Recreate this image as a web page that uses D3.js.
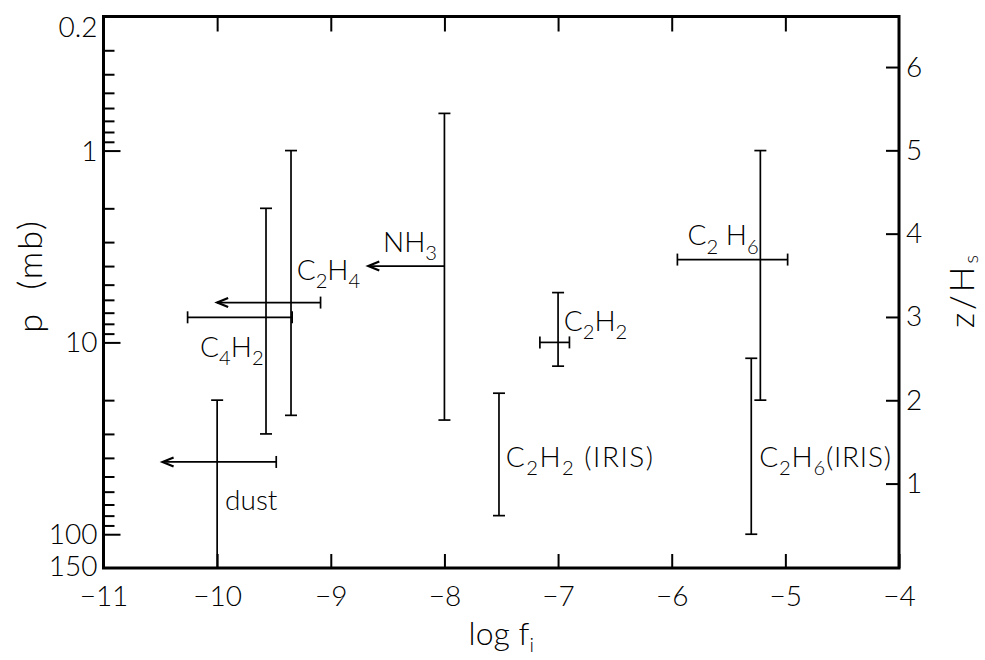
<!DOCTYPE html>
<html>
<head>
<meta charset="utf-8">
<script src="https://cdn.jsdelivr.net/npm/d3@7"></script>
<style>
  html, body { margin: 0; padding: 0; background: #fff; }
  svg text { font-family: "Lato", "Open Sans", "DejaVu Sans", sans-serif; font-weight: 400; fill: #000; }
</style>
</head>
<body>
<svg id="chart" width="985" height="660"></svg>
<script>
// Species measured, one vertical pressure range each, with an optional
// horizontal mixing-ratio range (log f) at a representative pressure.
const species    = ["C4H2", "C2H4", "NH3", "dust", "C2H2", "C2H2 (IRIS)", "C2 H6", "C2H6(IRIS)"];
const logF       = [-9.57, -9.35, -8.0, -10.0, -7.0, -7.52, -5.22, -5.30];
const pTop       = [2.0, 1.0, 0.64, 20, 5.5, 18.4, 1.0, 12.1];
const pBottom    = [30, 24, 25.4, 150, 13.3, 80, 20, 100];
const pCross     = [7.4, 6.2, 4.0, 42, 10, null, 3.7, null];
const logFLow    = [-10.26, -10.0, -8.67, -10.48, -7.16, null, -5.95, null];
const logFHigh   = [-9.34, -9.09, -8.0, -9.48, -6.90, null, -4.98, null];
const upperLimit = [false, true, true, true, false, false, false, false];
const capTop     = [true, true, true, true, true, true, true, true];
const capBottom  = [true, true, true, false, true, true, true, true];

// Where each species name is written (log f, p of the text start / baseline)
const labelLogF  = [-10.15, -9.30, -8.54, -9.93, -6.95, -7.46, -5.86, -5.23];
const labelP     = [11.9, 4.73, 3.38, 74.8, 8.72, 44.6, 3.11, 44.6];
const labelSpacing = [0, 0, 0, 0, 0, 1.5, 0, 0.8];

// Axis ticks
const xTicks      = [-11, -10, -9, -8, -7, -6, -5, -4];
const pLabelTicks = [0.2, 1, 10, 100, 150];
const pMajorTicks = [1, 10, 100];
const pMinorTicks = [0.3, 0.4, 0.5, 0.6, 0.7, 0.8, 0.9, 2, 3, 4, 5, 6, 7, 8, 9,
                     20, 30, 40, 50, 60, 70, 80, 90];
const zTicks      = [1, 2, 3, 4, 5, 6];
const P0 = 148;   // reference pressure (mb) for z/Hs = ln(P0/p)

const padL = 103.5, padR = 899, padT = 16.5, padB = 568;
const x = d3.scaleLinear().domain([-11, -4]).range([padL, padR]);
const y = d3.scaleLog().domain([0.2, 150]).range([padT, padB]);
const z = d3.scaleLinear()
  .domain([Math.log(P0 / 150), Math.log(P0 / 0.2)])
  .range([padB, padT]);

const svg = d3.select("#chart");
const FS = 28;

function styleAxis(g) {
  g.select(".domain").remove();
  g.selectAll(".tick line").attr("stroke", "#000").attr("stroke-width", 2);
  g.selectAll(".tick text").attr("font-size", FS).attr("fill", "#000")
    .style("font-family", "Lato, 'Open Sans', sans-serif").style("font-weight", 300);
}

// bottom axis: inward ticks, labels below
svg.append("g").attr("transform", `translate(0,${padB})`)
  .call(d3.axisBottom(x).tickValues(xTicks).tickSizeInner(-14).tickSizeOuter(0)
    .tickPadding(18).tickFormat(d => d3.format("d")(d).replace("-", "\u2212")))
  .call(styleAxis);

// top axis: ticks only
svg.append("g").attr("transform", `translate(0,${padT})`)
  .call(d3.axisTop(x).tickValues(xTicks.slice(1, -1)).tickSizeInner(-15).tickSizeOuter(0).tickFormat(""))
  .call(styleAxis);

// left axis: major and minor ticks pointing inward
svg.append("g").attr("transform", `translate(${padL},0)`)
  .call(d3.axisLeft(y).tickValues(pMajorTicks).tickSizeInner(-17).tickSizeOuter(0).tickFormat(""))
  .call(styleAxis);
svg.append("g").attr("transform", `translate(${padL},0)`)
  .call(d3.axisLeft(y).tickValues(pMinorTicks).tickSizeInner(-11).tickSizeOuter(0).tickFormat(""))
  .call(styleAxis);
// left axis labels
const leftLab = svg.append("g").attr("transform", `translate(${padL},0)`)
  .call(d3.axisLeft(y).tickValues(pLabelTicks).tickSize(0).tickPadding(6)
    .tickFormat(d => d < 1 ? d3.format(".1f")(d) : d3.format("d")(d)))
  .call(styleAxis);
leftLab.selectAll(".tick text")
  .attr("dy", d => d === 0.2 ? "0.73em" : d === 150 ? "0.25em" : "0.34em");

// right axis: z/Hs
svg.append("g").attr("transform", `translate(${padR},0)`)
  .call(d3.axisRight(z).tickValues(zTicks).tickSizeInner(-13).tickSizeOuter(0).tickPadding(7)
    .tickFormat(d3.format("d")))
  .call(styleAxis)
  .selectAll(".tick text").attr("x", 7);

// frame
svg.append("rect").attr("x", padL).attr("y", padT)
  .attr("width", padR - padL).attr("height", padB - padT)
  .attr("fill", "none").attr("stroke", "#000").attr("stroke-width", 3);

// error bars
const marks = svg.append("g").attr("stroke", "#000").attr("stroke-width", 1.7).attr("fill", "none");
const CAP = 6;
species.forEach((s, i) => {
  const xv = x(logF[i]);
  marks.append("line").attr("x1", xv).attr("x2", xv).attr("y1", y(pTop[i])).attr("y2", y(pBottom[i]));
  if (capTop[i]) marks.append("line").attr("x1", xv - CAP).attr("x2", xv + CAP)
    .attr("y1", y(pTop[i])).attr("y2", y(pTop[i]));
  if (capBottom[i]) marks.append("line").attr("x1", xv - CAP).attr("x2", xv + CAP)
    .attr("y1", y(pBottom[i])).attr("y2", y(pBottom[i]));
  if (pCross[i] != null) {
    const yc = y(pCross[i]), x0 = x(logFLow[i]), x1 = x(logFHigh[i]);
    marks.append("line").attr("x1", x0).attr("x2", x1).attr("y1", yc).attr("y2", yc);
    if (logFHigh[i] !== logF[i]) marks.append("line").attr("x1", x1).attr("x2", x1)
      .attr("y1", yc - CAP).attr("y2", yc + CAP);
    if (upperLimit[i]) {
      marks.append("path").attr("stroke-width", 2.2).attr("stroke-linejoin", "miter")
        .attr("d", `M${x0 + 11},${yc - 4.5} L${x0},${yc} L${x0 + 11},${yc + 4.5}`);
    } else {
      marks.append("line").attr("x1", x0).attr("x2", x0).attr("y1", yc - CAP).attr("y2", yc + CAP);
    }
  }
});

// species names with subscripted digits
function formula(sel, str, size) {
  const parts = str.match(/\d+|[^\d]+/g);
  let sub = false;
  parts.forEach(p => {
    const isNum = /^\d+$/.test(p);
    const t = sel.append("tspan").text(p);
    if (isNum) { t.attr("font-size", size * 0.72).attr("dy", sub ? 0 : size * 0.3); sub = true; }
    else { t.attr("font-size", size).attr("dy", sub ? -size * 0.3 : 0); sub = false; }
  });
}
species.forEach((s, i) => {
  const t = svg.append("text").attr("x", x(labelLogF[i])).attr("y", y(labelP[i]))
    .attr("font-size", FS).attr("letter-spacing", labelSpacing[i]).style("white-space", "pre")
    .style("font-weight", 300);
  formula(t, s, FS);
});

// axis titles
const xt = svg.append("text").attr("x", (padL + padR) / 2).attr("y", 645)
  .attr("text-anchor", "middle").attr("font-size", 32).style("font-weight", 300);
xt.append("tspan").text("log f");
xt.append("tspan").text("i").attr("font-size", 20).attr("dy", 7);

svg.append("text").attr("transform", `translate(42,276) rotate(-90)`)
  .attr("text-anchor", "middle").attr("font-size", 34).attr("letter-spacing", 2)
  .style("font-weight", 300).style("white-space", "pre").text("p  (mb)");

const zt = svg.append("text").attr("transform", `translate(974,290) rotate(-90)`)
  .attr("text-anchor", "middle").attr("font-size", 34).attr("letter-spacing", 3)
  .style("font-weight", 300);
zt.append("tspan").text("z/H");
zt.append("tspan").text("s").attr("font-size", 20).attr("dy", 4);
</script>
</body>
</html>
